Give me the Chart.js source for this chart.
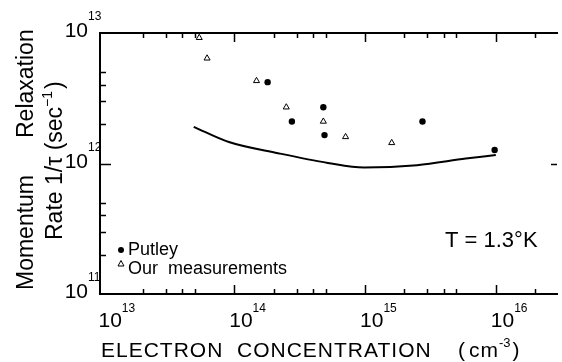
<!DOCTYPE html>
<html lang="en">

<head>
    <meta charset="UTF-8">
    <title>Momentum Relaxation Rate</title>
    <script src="https://cdn.jsdelivr.net/npm/chart.js"></script>
    <style>
        body {
            margin: 0;
            background-color: #ffffff;
        }

        #wrap {
            width: 562px;
            height: 362px;
        }
    </style>
</head>

<body>
    <div id="wrap">
        <canvas id="rateChart" width="562" height="362"></canvas>
    </div>

    <script>
        // values
        const putleyX = [1.8e14, 2.76e14, 4.8e14, 4.9e14, 2.75e15, 9.8e15];
        const putleyY = [4.2e12, 2.1e12, 2.7e12, 1.65e12, 2.1e12, 1.27e12];

        const oursX = [5.4e13, 6.2e13, 1.48e14, 2.5e14, 4.8e14, 7.1e14, 1.6e15];
        const oursY = [9.2e12, 6.4e12, 4.3e12, 2.7e12, 2.1e12, 1.6e12, 1.44e12];

        const theoryX = [4.9e13, 9.1e13, 2.16e14, 5.2e14, 9.8e14, 2.5e15, 5.9e15, 1.0e16];
        const theoryY = [1.91e12, 1.46e12, 1.20e12, 1.01e12, 0.93e12, 0.97e12, 1.09e12, 1.16e12];

        const xTickExponents = [13, 14, 15, 16];
        const yTickExponents = [11, 12, 13];
        const minorMultipliers = [2, 3, 4, 5];

        const FONT = "'Liberation Sans', Arial, sans-serif";

        function toPoints(xs, ys) {
            return xs.map((v, i) => ({ x: v, y: ys[i] }));
        }

        // draws text pieces one after another, some raised as superscripts
        function drawPieces(ctx, pieces, x, y) {
            let cx = x;
            pieces.forEach(p => {
                ctx.font = p.size + "px " + FONT;
                ctx.letterSpacing = (p.spacing || 0) + "px";
                ctx.fillText(p.text, cx + (p.dx || 0), y - (p.rise || 0));
                cx += ctx.measureText(p.text).width + (p.dx || 0);
            });
            ctx.letterSpacing = "0px";
        }

        const decorations = {
            id: "decorations",
            afterDraw(chart) {
                const { ctx, chartArea: a, scales } = chart;
                const x = scales.x;
                const y = scales.y;
                ctx.save();
                ctx.strokeStyle = "#000";
                ctx.fillStyle = "#000";
                ctx.lineWidth = 1.5;

                // inward tick marks, bottom and top
                ctx.beginPath();
                for (let e = 12; e <= 16; e++) {
                    [1].concat(minorMultipliers).forEach(m => {
                        const v = m * Math.pow(10, e);
                        if (v < x.min || v > x.max) return;
                        const px = Math.round(x.getPixelForValue(v)) + 0.5;
                        if (px - a.left < 5 || a.right - px < 2) return;
                        const len = m === 1 ? 9 : 5;
                        ctx.moveTo(px, a.bottom);
                        ctx.lineTo(px, a.bottom - len);
                        ctx.moveTo(px, a.top);
                        ctx.lineTo(px, a.top + len);
                    });
                }
                // left side
                for (let e = 11; e <= 13; e++) {
                    [1].concat(minorMultipliers).forEach(m => {
                        const v = m * Math.pow(10, e);
                        if (v < y.min || v > y.max) return;
                        const py = Math.round(y.getPixelForValue(v)) + 0.5;
                        if (py - a.top < 3 || a.bottom - py < 3) return;
                        const len = m === 1 ? 11 : 6;
                        ctx.moveTo(a.left, py);
                        ctx.lineTo(a.left + len, py);
                    });
                }
                // stub of the right-hand axis at 10^12
                const p12 = Math.round(y.getPixelForValue(1e12)) + 0.5;
                ctx.moveTo(a.right - 6, p12);
                ctx.lineTo(a.right, p12);
                ctx.stroke();

                // y tick labels
                ctx.textBaseline = "alphabetic";
                yTickExponents.forEach(e => {
                    const py = y.getPixelForValue(Math.pow(10, e));
                    ctx.textAlign = "right";
                    ctx.font = "21px " + FONT;
                    ctx.fillText("10", 88, py + 4);
                    ctx.textAlign = "left";
                    ctx.font = "12px " + FONT;
                    ctx.fillText(String(e), 88, py - 13);
                });

                // x tick labels
                ctx.textAlign = "left";
                xTickExponents.forEach(e => {
                    const px = x.getPixelForValue(Math.pow(10, e));
                    ctx.font = "21px " + FONT;
                    ctx.fillText("10", px - 5, 327);
                    const w = ctx.measureText("10").width;
                    ctx.font = "12px " + FONT;
                    ctx.fillText(String(e), px - 5 + w, 312);
                });

                // x axis title
                drawPieces(ctx, [
                    { text: "ELECTRON  CONCENTRATION", size: 21, spacing: 1 }
                ], 101, 357);
                drawPieces(ctx, [
                    { text: "(", size: 21 },
                    { text: "cm", size: 21, dx: 4, spacing: 1 },
                    { text: "-3", size: 13, rise: 10 },
                    { text: ")", size: 21, dx: 2 }
                ], 458, 357);

                // y axis title (two rotated lines)
                ctx.save();
                ctx.translate(33, 290);
                ctx.rotate(-Math.PI / 2);
                ctx.font = "23px " + FONT;
                ctx.fillText("Momentum", 0, 0);
                ctx.fillText("Relaxation", 152, 0);
                ctx.restore();

                ctx.save();
                ctx.translate(62, 240);
                ctx.rotate(-Math.PI / 2);
                drawPieces(ctx, [
                    { text: "Rate 1/\u03C4 (sec", size: 23 },
                    { text: "\u22121", size: 14, rise: 10 },
                    { text: ")", size: 23, dx: 2 }
                ], 0, 0);
                ctx.restore();

                // legend
                ctx.beginPath();
                ctx.arc(121, 250, 3, 0, Math.PI * 2);
                ctx.fill();
                ctx.lineWidth = 1;
                ctx.beginPath();
                ctx.moveTo(121, 260.5);
                ctx.lineTo(124, 266);
                ctx.lineTo(118, 266);
                ctx.closePath();
                ctx.stroke();
                ctx.font = "18px " + FONT;
                ctx.fillText(chart.data.datasets[1].label, 128, 255);
                ctx.fillText(chart.data.datasets[2].label, 128, 274);

                // temperature note
                ctx.font = "22px " + FONT;
                ctx.fillText("T = 1.3\u00B0K", 445, 247);

                ctx.restore();
            }
        };

        const logAxis = (pos, min, max) => ({
            type: "logarithmic",
            position: pos,
            min: min,
            max: max,
            grid: { display: false, drawTicks: false },
            ticks: { display: false },
            border: { display: true, color: "#000", width: 2 }
        });

        const xMin = Math.pow(10, 12.9735);
        const xMax = Math.pow(10, 16.468);

        new Chart(document.getElementById("rateChart"), {
            type: "scatter",
            data: {
                datasets: [{
                    type: "line",
                    label: "Theory",
                    data: toPoints(theoryX, theoryY),
                    borderColor: "#000",
                    borderWidth: 2,
                    pointRadius: 0,
                    cubicInterpolationMode: "monotone",
                    fill: false,
                    order: 2
                }, {
                    label: "Putley",
                    data: toPoints(putleyX, putleyY),
                    pointStyle: "circle",
                    pointRadius: 3.2,
                    backgroundColor: "#000",
                    borderColor: "#000",
                    borderWidth: 0,
                    order: 1
                }, {
                    label: "Our  measurements",
                    data: toPoints(oursX, oursY),
                    pointStyle: "triangle",
                    pointRadius: 3.5,
                    backgroundColor: "#fff",
                    borderColor: "#000",
                    borderWidth: 1,
                    order: 1
                }]
            },
            options: {
                responsive: false,
                animation: false,
                clip: false,
                layout: { padding: { left: 100, top: 33, right: 0, bottom: 68 } },
                plugins: {
                    legend: { display: false },
                    tooltip: { enabled: false }
                },
                scales: {
                    x: logAxis("bottom", xMin, xMax),
                    xTop: logAxis("top", xMin, xMax),
                    y: logAxis("left", 1e11, 1e13)
                }
            },
            plugins: [decorations]
        });
    </script>
</body>

</html>
